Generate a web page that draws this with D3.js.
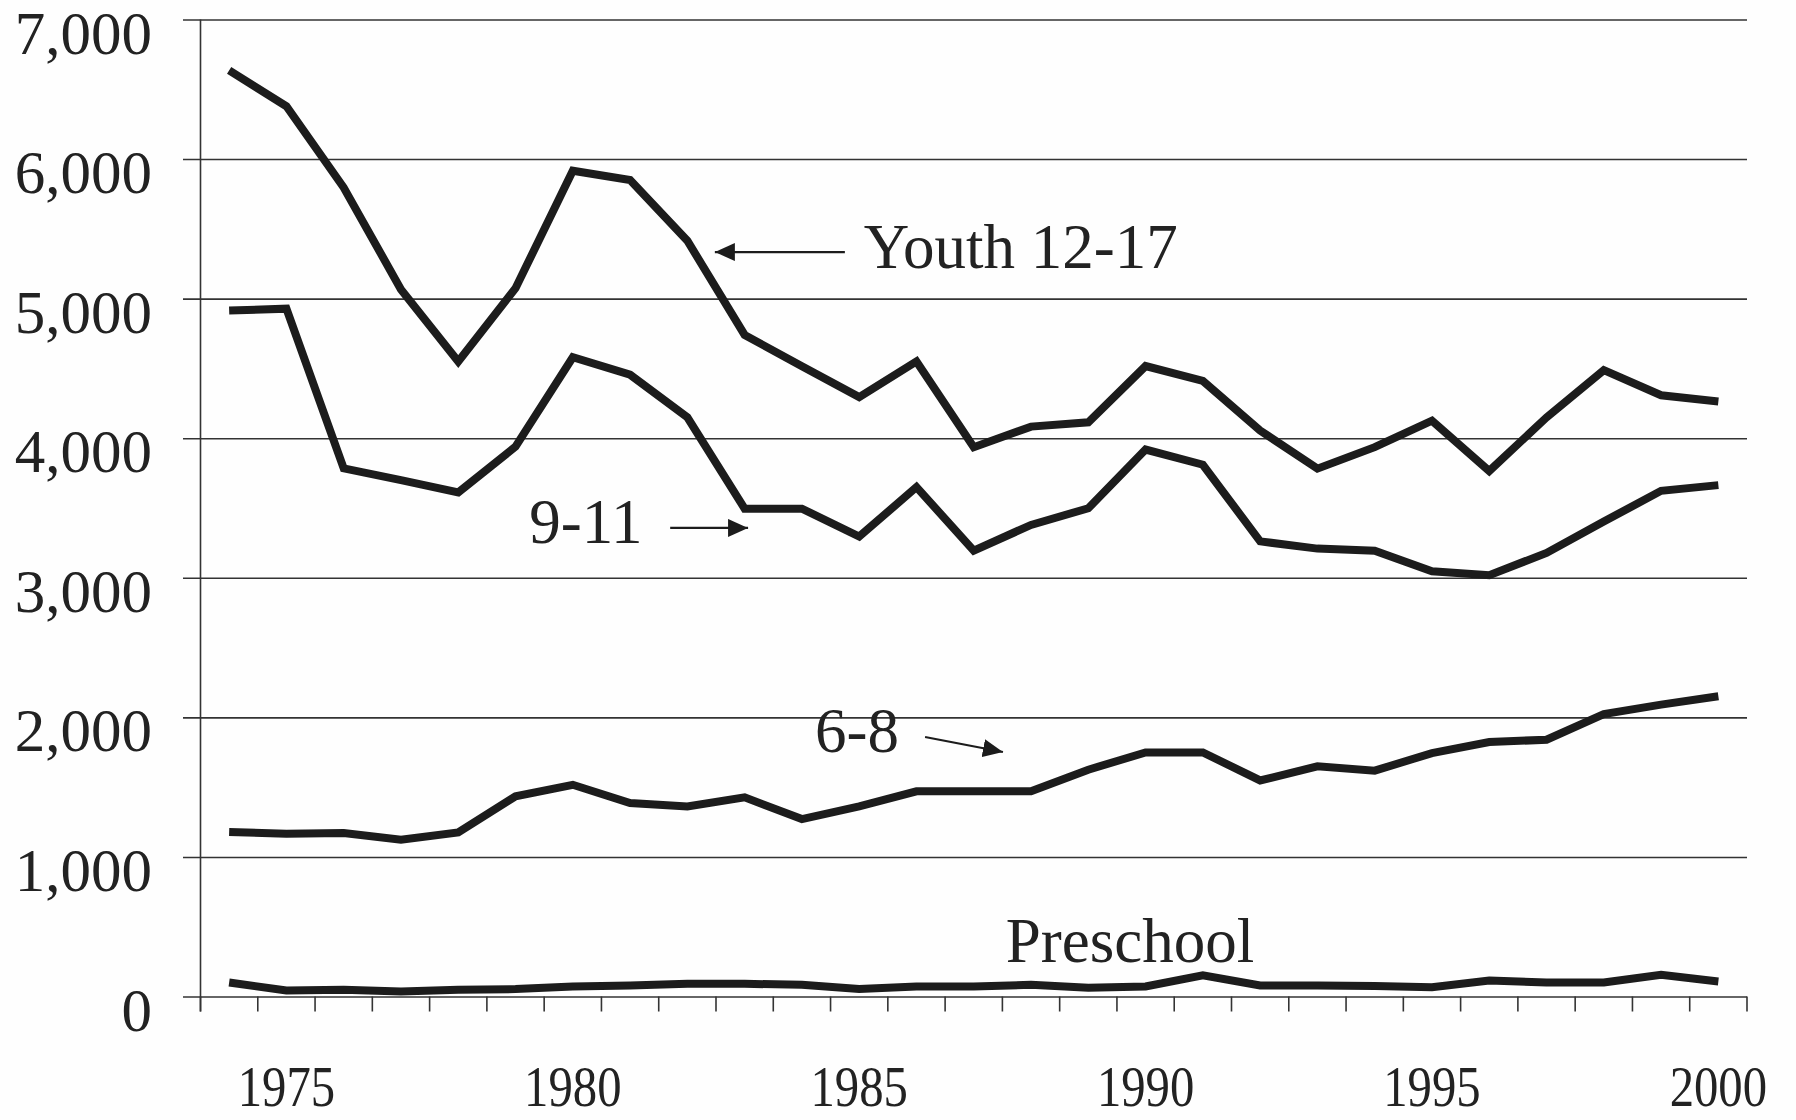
<!DOCTYPE html>
<html>
<head>
<meta charset="utf-8">
<script src="https://cdn.jsdelivr.net/npm/d3@7"></script>
<style>
  body { margin: 0; background: #fff; }
  svg { display: block; }
  text { font-family: 'Liberation Serif', 'Times New Roman', serif; fill: #222; }
</style>
</head>
<body>
<svg width="1796" height="1120"></svg>
<script>
// years on the category axis
var years = d3.range(1974, 2001);
var yearLabels = [1975, 1980, 1985, 1990, 1995, 2000];
var yTicks = [0, 1000, 2000, 3000, 4000, 5000, 6000, 7000];

// series values, one per year 1974..2000
var youth = [6635, 6378, 5796, 5066, 4550, 5075, 5916, 5850, 5415, 4740, 4515, 4295, 4550, 3936,
  4083, 4114, 4517, 4410, 4055, 3782, 3936, 4126, 3765, 4149, 4488, 4308, 4263];
var age911 = [4915, 4928, 3784, 3700, 3612, 3940, 4580, 4455, 4150, 3495, 3495, 3295, 3650, 3194,
  3379, 3498, 3919, 3810, 3261, 3209, 3194, 3047, 3019, 3178, 3403, 3623, 3664];
var age68 = [1178, 1166, 1171, 1123, 1176, 1434, 1517, 1386, 1362, 1427, 1271, 1362, 1470, 1470,
  1470, 1625, 1749, 1749, 1548, 1649, 1618, 1744, 1823, 1840, 2024, 2091, 2151];
var preschool = [100, 43, 48, 36, 48, 53, 72, 79, 91, 91, 84, 53, 72, 72,
  84, 62, 72, 151, 79, 79, 76, 67, 115, 100, 100, 155, 108];

// label text and where it sits (in year / value units)
var labelNames = ['Youth 12-17', '9-11', '6-8', 'Preschool'];
var labelPos = [[1985.08, 5220], [1979.24, 3249], [1984.23, 1752], [1987.56, 247]];
// arrows: from -> to (year, value)
var arrows = [
  [[1984.75, 5334], [1982.48, 5334]],
  [[1981.70, 3357], [1983.06, 3357]],
  [[1986.15, 1859], [1987.51, 1752]]
];

var svg = d3.select('svg');
var plot = { left: 200.5, right: 1747, top: 19.5, bottom: 996.5 };

var x = d3.scaleBand().domain(years).range([plot.left, plot.right]).padding(0);
// continuous version of the same axis, for annotations
var xl = d3.scaleLinear().domain([1973.5, 2000.5]).range([plot.left, plot.right]);
var y = d3.scaleLinear().domain([0, 7000]).range([plot.bottom, plot.top]);

svg.append('rect').attr('width', 1796).attr('height', 1120).attr('fill', '#fefefe');

// y grid + labels
var yAxis = svg.append('g')
  .attr('transform', 'translate(183,0)')
  .call(d3.axisLeft(y).tickValues(yTicks).tickSize(-(plot.right - 183)).tickPadding(31)
    .tickFormat(d3.format(',')));
yAxis.select('.domain').remove();
yAxis.selectAll('.tick line').attr('stroke', '#333').attr('stroke-width', 1.6);
yAxis.selectAll('.tick text')
  .attr('font-size', 61)
  .attr('dy', '0.55em')
  .attr('fill', '#222')
  .style('font-family', "'Liberation Serif', serif");

// vertical axis line
svg.append('line')
  .attr('x1', plot.left).attr('x2', plot.left)
  .attr('y1', plot.top).attr('y2', plot.bottom + 15)
  .attr('stroke', '#333').attr('stroke-width', 1.6);

// x ticks at category boundaries
var bounds = years.map(function (d) { return x(d); }).concat([plot.right]);
svg.append('g').selectAll('line')
  .data(bounds)
  .enter()
  .append('line')
  .attr('x1', function (d) { return d; })
  .attr('x2', function (d) { return d; })
  .attr('y1', plot.bottom)
  .attr('y2', plot.bottom + 15)
  .attr('stroke', '#333').attr('stroke-width', 1.6);

// x labels
var xAxis = svg.append('g')
  .attr('transform', 'translate(0,' + plot.bottom + ')')
  .call(d3.axisBottom(x).tickValues(yearLabels).tickSize(0).tickPadding(0));
xAxis.select('.domain').remove();
xAxis.selectAll('.tick text')
  .attr('font-size', 58)
  .attr('y', 110)
  .attr('dy', 0)
  .attr('transform', 'scale(0.84,1)')
  .attr('fill', '#222')
  .style('font-family', "'Liberation Serif', serif");

// lines
var allSeries = [youth, age911, age68, preschool];
var line = d3.line()
  .x(function (d, i) { return x(years[i]) + x.bandwidth() / 2; })
  .y(function (d) { return y(d); });

svg.append('g').selectAll('path')
  .data(allSeries)
  .enter()
  .append('path')
  .attr('d', line)
  .attr('fill', 'none')
  .attr('stroke', '#1c1c1c')
  .attr('stroke-width', 8)
  .attr('stroke-linejoin', 'miter');

// annotations
svg.append('defs').append('marker')
  .attr('id', 'head')
  .attr('viewBox', '0 0 20 18')
  .attr('refX', 20).attr('refY', 9)
  .attr('markerWidth', 20).attr('markerHeight', 18)
  .attr('markerUnits', 'userSpaceOnUse')
  .attr('orient', 'auto')
  .append('path')
  .attr('d', 'M0,0 L20,9 L0,18 Z')
  .attr('fill', '#1c1c1c');

svg.append('g').selectAll('line')
  .data(arrows)
  .enter()
  .append('line')
  .attr('x1', function (d) { return xl(d[0][0]); })
  .attr('y1', function (d) { return y(d[0][1]); })
  .attr('x2', function (d) { return xl(d[1][0]); })
  .attr('y2', function (d) { return y(d[1][1]); })
  .attr('stroke', '#1c1c1c')
  .attr('stroke-width', 2.2)
  .attr('marker-end', 'url(#head)');

svg.append('g').selectAll('text')
  .data(labelNames)
  .enter()
  .append('text')
  .attr('x', function (d, i) { return xl(labelPos[i][0]); })
  .attr('y', function (d, i) { return y(labelPos[i][1]); })
  .attr('font-size', 63)
  .text(function (d) { return d; });
</script>
</body>
</html>
